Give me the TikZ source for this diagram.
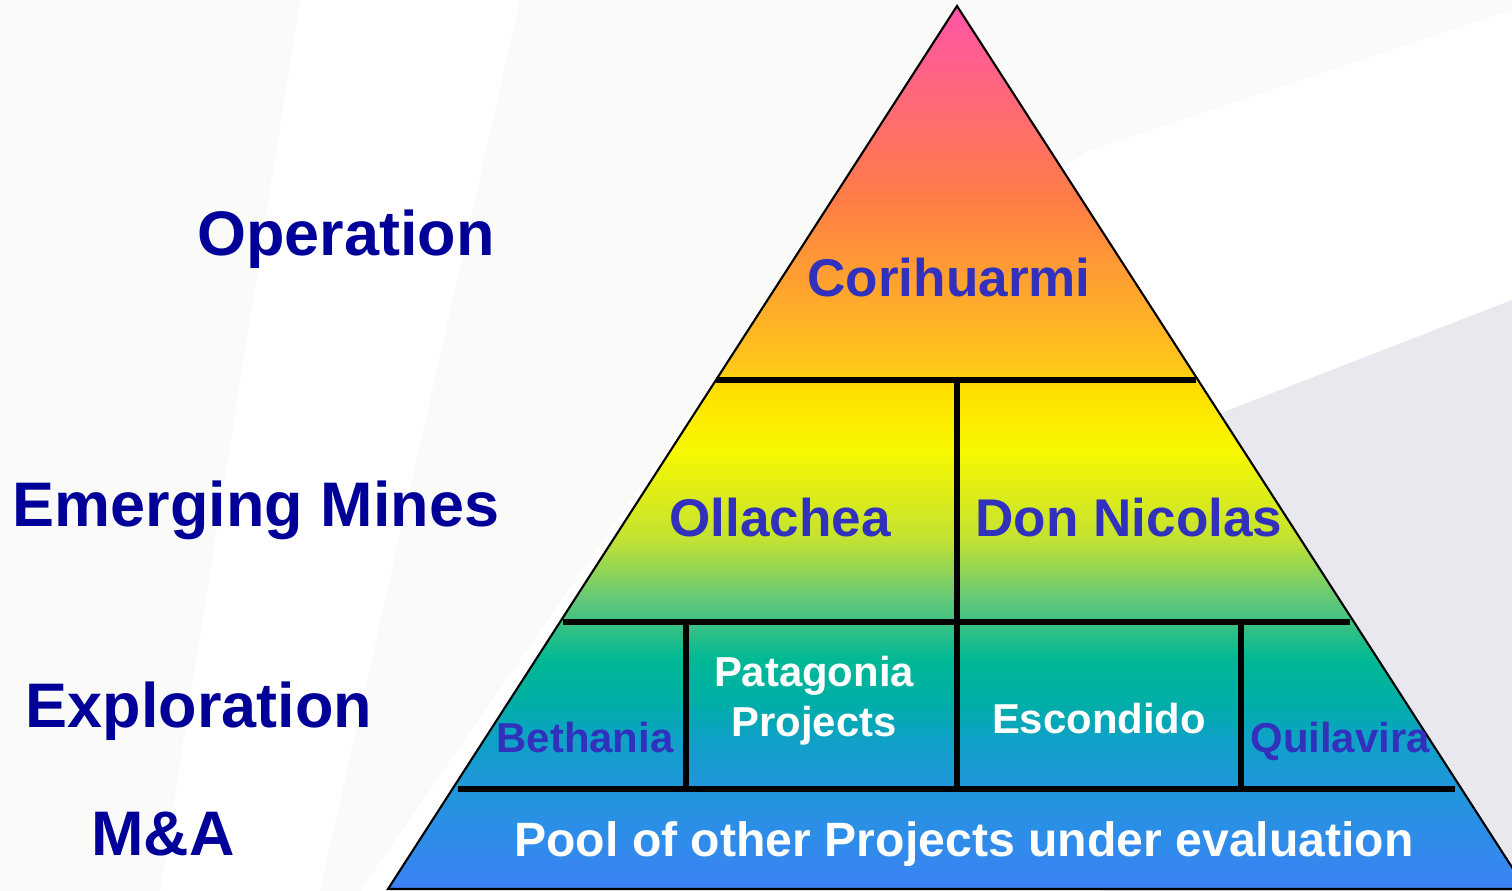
\documentclass[tikz,border=0pt]{standalone}
\usepackage{fontspec}
\setmainfont{Liberation Sans}
\usepackage{tikz}
\usetikzlibrary{positioning}

\definecolor{tiername}{HTML}{000099}
\definecolor{minename}{HTML}{3131BD}
\definecolor{haze}{HTML}{FAFAF8}
\definecolor{slate}{HTML}{E8E8EE}
\definecolor{p00}{HTML}{3C82F6}
\definecolor{p01}{HTML}{2196DC}
\definecolor{p02}{HTML}{10A0C8}
\definecolor{p03}{HTML}{00AEA8}
\definecolor{p04}{HTML}{00B894}
\definecolor{p05}{HTML}{62C878}
\definecolor{p06}{HTML}{C2E232}
\definecolor{p07}{HTML}{F8F800}
\definecolor{p08}{HTML}{FFE000}
\definecolor{p09}{HTML}{FFC81A}
\definecolor{p10}{HTML}{FF7D45}
\definecolor{p11}{HTML}{FF55A8}

% bottom of the pyramid at 25bp, apex at 75bp %
\pgfdeclareverticalshading{pyramid}{100bp}{color(0bp)=(p00); color(25bp)=(p00); color(30.6bp)=(p01); color(33.4bp)=(p02); color(35.5bp)=(p03); color(38bp)=(p04); color(41.4bp)=(p05); color(44.8bp)=(p06); color(49.9bp)=(p07); color(53.2bp)=(p08); color(54.5bp)=(p09); color(64bp)=(p10); color(75bp)=(p11); color(100bp)=(p11)}

\begin{document}
\begin{tikzpicture}[x=0.01cm, y=-0.01cm,
	tier/.style={anchor=base, text=tiername, font=\bfseries\fontsize{17.9}{20}\selectfont},
	mine/.style={anchor=base, text=minename, font=\bfseries\fontsize{15.1}{17}\selectfont},
	prospect/.style={anchor=base, text=minename, font=\bfseries\fontsize{11.9}{14}\selectfont},
	pool/.style={text=white, font=\bfseries\fontsize{11.9}{14.2}\selectfont, align=center},
	divider/.style={line width=1.5pt}]

	\useasboundingbox (0,0) rectangle (1512,891);
	\clip (0,0) rectangle (1512,891);
	% Background %
	\fill [white] (0,0) rectangle (1512,891);
	\fill [haze] (0,0) -- (300,0) -- (160,891) -- (0,891) -- cycle;
	\fill [haze] (520,0) -- (1090,0) -- (1090,150) -- (700,400) -- (360,891) -- (320,891) -- cycle;
	\fill [haze] (1090,0) -- (1512,0) -- (1512,10) -- (1090,150) -- cycle;
	\fill [slate] (1100,460) -- (1512,300) -- (1512,891) -- (1100,891) -- cycle;
	% Pyramid %
	\draw [shading=pyramid, line width=0.6pt] (957,6) -- (388,889) -- (1526,889) -- cycle;
	% Dividers %
	\draw [divider] (716,380) -- (1196,380);
	\draw [divider] (563,622) -- (1350,622);
	\draw [divider] (458,789) -- (1455,789);
	\draw [divider] (957,380) -- (957,789);
	\draw [divider] (686,622) -- (686,789);
	\draw [divider] (1241,622) -- (1241,789);
	% Tiers %
	\node [tier] (operation) at (346,255) {Operation};
	\node [tier] (emerging) at (256,526) {Emerging Mines};
	\node [tier] (exploration) at (199,727) {Exploration};
	\node [tier] (acquisition) at (163,855) {M\&A};
	% Mines %
	\node [mine] (corihuarmi) at (949,296) {Corihuarmi};
	\node [mine] (ollachea) at (780,536) {Ollachea};
	\node [mine] (donnicolas) at (1129,536) {Don Nicolas};
	\node [prospect] (bethania) at (585,752) {Bethania};
	\node [prospect] (quilavira) at (1340,752) {Quilavira};
	\node [pool] (patagonia) at (814,701) {Patagonia\\Projects};
	\node [pool] (escondido) at (1099,719) {Escondido};
	\node [pool, font=\bfseries\fontsize{13.7}{16}\selectfont] (others) at (964,844) {Pool of other Projects under evaluation};
\end{tikzpicture}
\end{document}
